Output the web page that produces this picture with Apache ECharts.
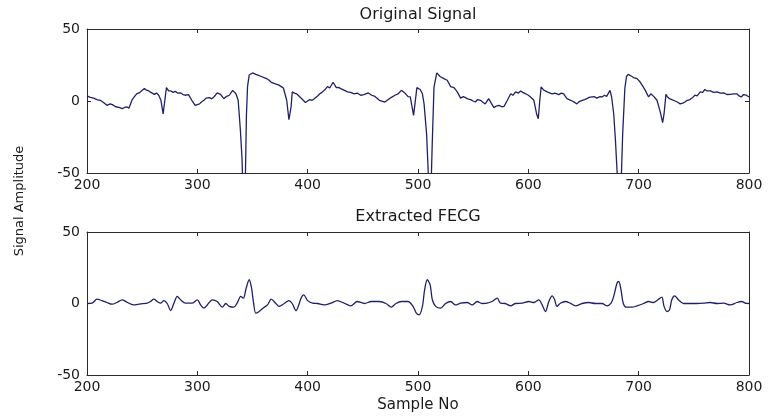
<!DOCTYPE html>
<html>
<head>
<meta charset="utf-8">
<script src="https://cdn.jsdelivr.net/npm/echarts@6/dist/echarts.min.js"></script>
<style>html,body{margin:0;padding:0;background:#fff;}#c{width:770px;height:419px;}</style>
</head>
<body>
<div id="c"></div>
<script>
// Tick labels
var xTicks = [200, 300, 400, 500, 600, 700, 800];
var yTicks = [-50, 0, 50];

// Original Signal: sample numbers and amplitudes
var origSamples = [200,203,206,209,212,215,218,221,223,226,229,232,234,236,238,241,243,245,248,250,252,254,256,258,261,263,265,267,269,270,272,274,276,278,280,282,285,287,289,292,295,298,300,302,304,306,308,311,313,315,318,321,324,326,329,332,335,337,339,340.5,342,343.5,344.5,345.5,347,350,353,355,358,361,363,365,367,370,372,374,376,378,379,381,383,385,386,388,390,393,396,398,399,402,404,406,409,411,413,415,418,420,423,426,428,430,433,436,439,442,445,448,451,455,458,461,465,470,474,477,479,482,485,488,491,493,496,497,499,502,504,505.5,507.8,509.3,510.5,512,513,514.5,517,520,523.5,526.5,529.6,532.6,535.6,538.6,541,543,545,547.7,550,552,554,556.7,559,561,564,566,568.8,571,573.3,576,578,581,584,586,588.5,591,593,595,597.6,600,602,605,607.5,609,610.4,611.6,614,615.6,618,621.6,624,627.6,630,632,635,637,639.7,642,644,646,649,651,653,655,657.8,660,662,665,667,669,671,674,675.5,677.4,679,680.5,682,684,685.5,687.5,689,690.5,692,694,696,698.5,701.5,704,706,709,711,713.6,716.6,719.6,721.7,723,724.7,726,728,730,733,735,737.6,740,742,744,746.5,749,751,753,755.8,758,760,762,765,768,771,774,777,780,783,786,789,791,793,795,797.6,800];
var origValues = [3.5,2.5,2,1,0.5,-1,-3,-2,-2.5,-4,-4.5,-5.3,-4.5,-4,-5,1,3,5,6,7.5,8.6,7.5,7,6,4.6,5.5,4,0.5,-9,-8.5,9.3,7,7,6,6.7,5.5,5.6,4.5,4,4.4,0.5,-3,-2.5,-2,-0.5,0.5,2,2.3,1.5,2.8,5.6,4.6,1.6,3,4,7.4,5,0.5,-20,-40,-80,-55,-10,10,18,19.5,18.5,18,17,16,15.5,14.4,13,12,11.5,11,10,9,8,0.5,-13,-4,6.3,5.5,5,2.8,0.5,-1,-2,1,0.5,1.6,3.5,5,6,7.4,10,9,13,9.3,9.5,8.6,7.5,6.3,6,5,5.5,4,4.5,5.6,4,3.2,0.5,-0.7,1.6,3,4,5,7.4,5.6,3,2.8,-10,-10.7,9.3,8,5,-2,-23,-50,-80,-55,-27,9.7,19.5,17,15.5,14.4,10,9.3,6.3,2,3,2.3,1.5,1,0,-0.7,1,0.5,-1,-2,1.6,-1,-4.6,-3.5,-3,-4,-3.7,0.5,5,4,6.3,5.5,7,6,5,4,2.8,0.5,-9,-12.3,0.5,9.7,7.5,7,6,5,5.5,4.4,5.5,5,1.6,1,0,-1,-2,-0.5,0.5,1,1.6,2.5,2.8,3,2,3,2.8,4,3.2,7.4,2.8,-9,-28,-50,-80,-60,-23,9,17,18.5,18,17,16,15.5,13,10,7.4,2.8,5,3.2,0.5,-7.7,-15,-9,4.6,3,1.6,1,0,-0.7,-2,-1.5,-0.7,0.5,1,2.5,4,3.5,6.3,6,8,7,7,6,6.3,5.5,5.6,4.5,4.6,5,5,3.5,2.8,4.5,4,2.8];

// Extracted FECG: sample numbers and amplitudes
var fecgSamples = [200,204.5,209,213.6,218,222.7,227,232,236,242,248.5,254.5,257.6,260.6,263.6,266.7,269.7,272.7,275.8,278.8,281.8,284.8,289.4,295.5,300,303,306,309,313.6,318,322.7,325.8,328.8,333,336,339.4,341.8,344,347,349,351,353,356,360.6,363.6,367,371,374,378.8,383,386,389.4,391.5,394,396.4,400,404.5,409,415,421,427,433,439,445,451.5,457.6,465,471,475.8,480,485,491,495.5,498.5,501,504,506,508.4,511,513,516,520.5,525,529.6,534,538.6,544.6,549,553.7,558,562.7,567,571.8,574.8,579,584,588.4,594.4,600.5,605,609.5,612.5,615.5,618.6,621.6,623.7,626,629,633.6,638,642.7,648.7,654.7,660.8,666.8,671.4,675,677.4,680.4,682,684,686,689,694,698.5,704.5,709,713.6,718,721,723,725.7,728,730,732.6,736,740.7,746.7,752.8,758.8,765,771,777,783,789,793.5,796.6,800];
var fecgValues = [0,0.2,3,2,0.7,-0.5,0.7,2.6,1,-1,-0.2,0.2,1.4,3,1.4,0.2,2,0,-4.9,0.2,5,2.6,0.2,0.2,2.6,-1,-3.3,-1,2.6,1.4,-2.6,0,-2,-2.6,0.2,5,3.7,10,16.6,11.4,0.2,-6.8,-5.6,-2.6,-1,3,0.2,-2,0,2,0,-5,-2,3.7,6,2,0.2,0,-1,0.2,2,0.2,-1.6,1.4,0,1.4,1.4,0,-2.6,0,1.4,1.4,-2,-6.8,-8,-2,9.6,16.6,13,2.6,-2,-3.3,0,1.4,-1,0.2,0.7,-1,1.4,0,0.2,1.4,3.7,0.2,0,-1.6,0,0.2,1.4,0.7,2.6,-1,-5.6,1.4,5.4,3,-2,0.2,1.4,0.2,-1.6,0,0.7,0,0,-1.6,0.2,5,14.3,15.4,9.6,0.2,-2.6,-2.6,-1.6,0,1.4,0.7,3,4.4,-2,-5.6,-4.4,2.6,5.4,2.6,0,0,0,0.2,0.7,0,0.2,-1,0.7,1.4,0.2,0];

function zip(a, b) { return a.map(function (v, i) { return [v, b[i]]; }); }

var FONT = 'DejaVu Sans';
var AX = '#2a2a2a';
var LINE = '#20206a';

function xAx(grid, showLabel, pos) {
  return {
    type: 'value', gridIndex: grid, position: pos,
    min: xTicks[0], max: xTicks[xTicks.length - 1], interval: 100,
    axisLine: { show: true, onZero: false, lineStyle: { color: AX, width: 1 } },
    axisTick: { show: true, inside: true, length: 4, lineStyle: { color: AX } },
    axisLabel: { show: showLabel, margin: 5, color: '#1a1a1a', fontFamily: FONT, fontSize: 14 },
    splitLine: { show: false }
  };
}
function yAx(grid, showLabel, pos) {
  return {
    type: 'value', gridIndex: grid, position: pos,
    min: yTicks[0], max: yTicks[yTicks.length - 1], interval: 50,
    axisLine: { show: true, onZero: false, lineStyle: { color: AX, width: 1 } },
    axisTick: { show: true, inside: true, length: 4, lineStyle: { color: AX } },
    axisLabel: { show: showLabel, margin: 7, color: '#1a1a1a', fontFamily: FONT, fontSize: 14 },
    splitLine: { show: false }
  };
}

var chart = echarts.init(document.getElementById('c'), null, { renderer: 'canvas' });
chart.setOption({
  backgroundColor: '#ffffff',
  animation: false,
  grid: [
    { left: 87, right: 21, top: 29, height: 144 },
    { left: 87, right: 21, top: 232, height: 143 }
  ],
  xAxis: [xAx(0, true, 'bottom'), xAx(0, false, 'top'), xAx(1, true, 'bottom'), xAx(1, false, 'top')],
  yAxis: [yAx(0, true, 'left'), yAx(0, false, 'right'), yAx(1, true, 'left'), yAx(1, false, 'right')],
  graphic: [
    { type: 'text', x: 418, y: 15, style: { text: 'Original Signal', textAlign: 'center', textVerticalAlign: 'middle', align: 'center', verticalAlign: 'middle', fontSize: 16, fontFamily: FONT, fill: '#1a1a1a' } },
    { type: 'text', x: 418, y: 217, style: { text: 'Extracted FECG', textAlign: 'center', textVerticalAlign: 'middle', align: 'center', verticalAlign: 'middle', fontSize: 16, fontFamily: FONT, fill: '#1a1a1a' } },
    { type: 'text', x: 418, y: 405, style: { text: 'Sample No', textAlign: 'center', textVerticalAlign: 'middle', align: 'center', verticalAlign: 'middle', fontSize: 15, fontFamily: FONT, fill: '#1a1a1a' } },
    { type: 'text', x: 20, y: 201, rotation: Math.PI / 2, style: { text: 'Signal Amplitude', textAlign: 'center', textVerticalAlign: 'middle', align: 'center', verticalAlign: 'middle', fontSize: 13, fontFamily: FONT, fill: '#1a1a1a' } }
  ],
  series: [
    { type: 'line', xAxisIndex: 0, yAxisIndex: 0, data: zip(origSamples, origValues), showSymbol: false, clip: true, lineStyle: { color: LINE, width: 1.3 }, itemStyle: { color: LINE } },
    { type: 'line', xAxisIndex: 2, yAxisIndex: 2, data: zip(fecgSamples, fecgValues), showSymbol: false, clip: true, smooth: 0.3, lineStyle: { color: LINE, width: 1.3 }, itemStyle: { color: LINE } }
  ]
});
</script>
</body>
</html>
